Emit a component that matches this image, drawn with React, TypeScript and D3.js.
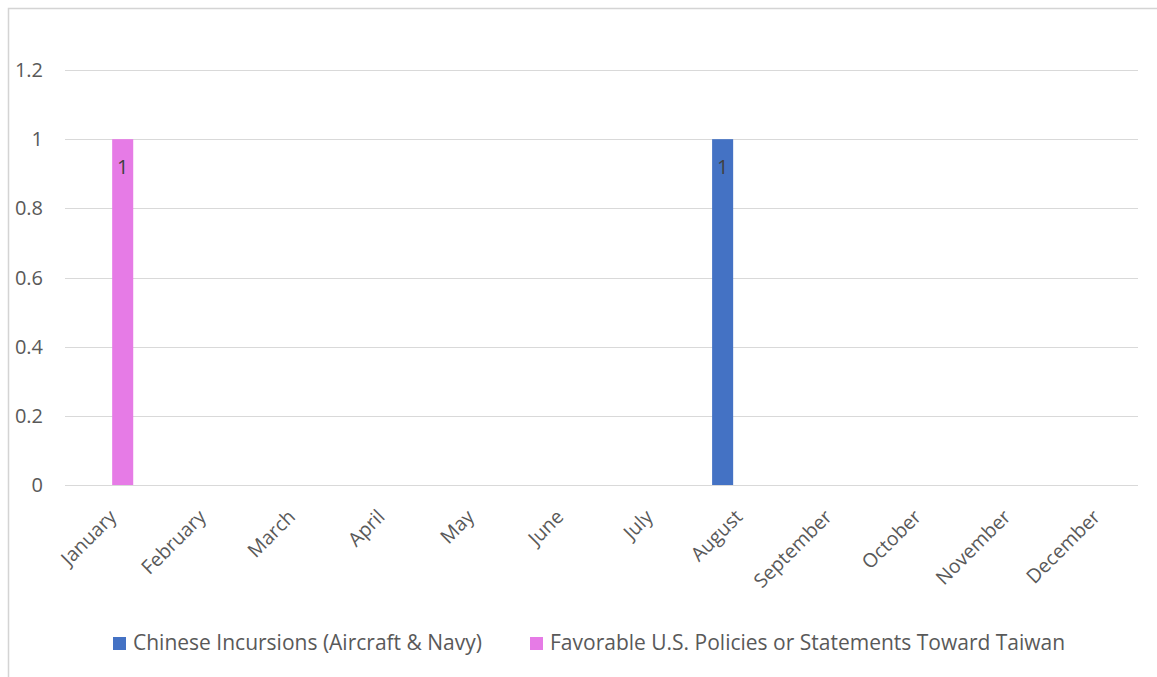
import React from "react";
import * as d3 from "d3";

const months = ["January","February","March","April","May","June","July","August","September","October","November","December"];
const seriesNames = ["Chinese Incursions (Aircraft & Navy)", "Favorable U.S. Policies or Statements Toward Taiwan"];
const incursions = [0,0,0,0,0,0,0,1,0,0,0,0];
const favorable = [1,0,0,0,0,0,0,0,0,0,0,0];
const seriesColors = ["#4472C4", "#E67BE6"];
const yTicks = [0, 0.2, 0.4, 0.6, 0.8, 1, 1.2];

const W = 1157, H = 677;
const plot = { left: 65, right: 1138, top: 70, bottom: 485 };
const FONT = "'Open Sans', 'Noto Sans', sans-serif";
const TXT = "#595959";

export default function App() {
  const x0 = d3.scaleBand<string>().domain(months).range([plot.left, plot.right]).paddingInner(0.474).paddingOuter(0.237);
  const x1 = d3.scaleBand<number>().domain([0, 1]).range([0, x0.bandwidth()]).paddingInner(0.19);
  const y = d3.scaleLinear().domain([0, 1.2]).range([plot.bottom, plot.top]);
  const data = [incursions, favorable];
  const step = x0.step();

  return (
    <svg width={W} height={H} style={{ position: "fixed", left: 0, top: 0 }} fontFamily={FONT}>
      <rect x={0} y={0} width={W} height={H} fill="#fff" />
      <rect x={8.5} y={8.5} width={W + 20} height={H + 20} fill="none" stroke="#d4d4d4" strokeWidth={1.5} />
      {yTicks.map((t) => (
        <g key={t}>
          <line x1={plot.left} x2={plot.right} y1={Math.round(y(t)) + 0.5} y2={Math.round(y(t)) + 0.5} stroke="#d9d9d9" strokeWidth={1} />
          <text x={43} y={y(t)} dy="0.35em" textAnchor="end" fontSize={20} fill={TXT}>{t}</text>
        </g>
      ))}
      {data.map((vals, si) =>
        vals.map((v, i) =>
          v > 0 ? (
            <g key={`${si}-${i}`}>
              <rect x={(x0(months[i]) as number) + (x1(si) as number)} y={y(v)} width={x1.bandwidth()} height={y(0) - y(v)} fill={seriesColors[si]} />
              <text x={(x0(months[i]) as number) + (x1(si) as number) + x1.bandwidth() / 2} y={y(v) + 35} textAnchor="middle" fontSize={20} fill="#404040">{v}</text>
            </g>
          ) : null
        )
      )}
      {months.map((m, i) => {
        const cx = plot.left + step * (i + 0.5);
        return (
          <text key={m} transform={`translate(${cx + 8},${plot.bottom + 33}) rotate(-45)`} textAnchor="end" fontSize={19.5} fill={TXT}>{m}</text>
        );
      })}
      {seriesNames.map((n, i) => {
        const lx = i === 0 ? 113 : 530;
        return (
          <g key={n}>
            <rect x={lx} y={637} width={13} height={13} fill={seriesColors[i]} />
            <text x={lx + 20} y={650} fontSize={21} fill={TXT}>{n}</text>
          </g>
        );
      })}
    </svg>
  );
}
